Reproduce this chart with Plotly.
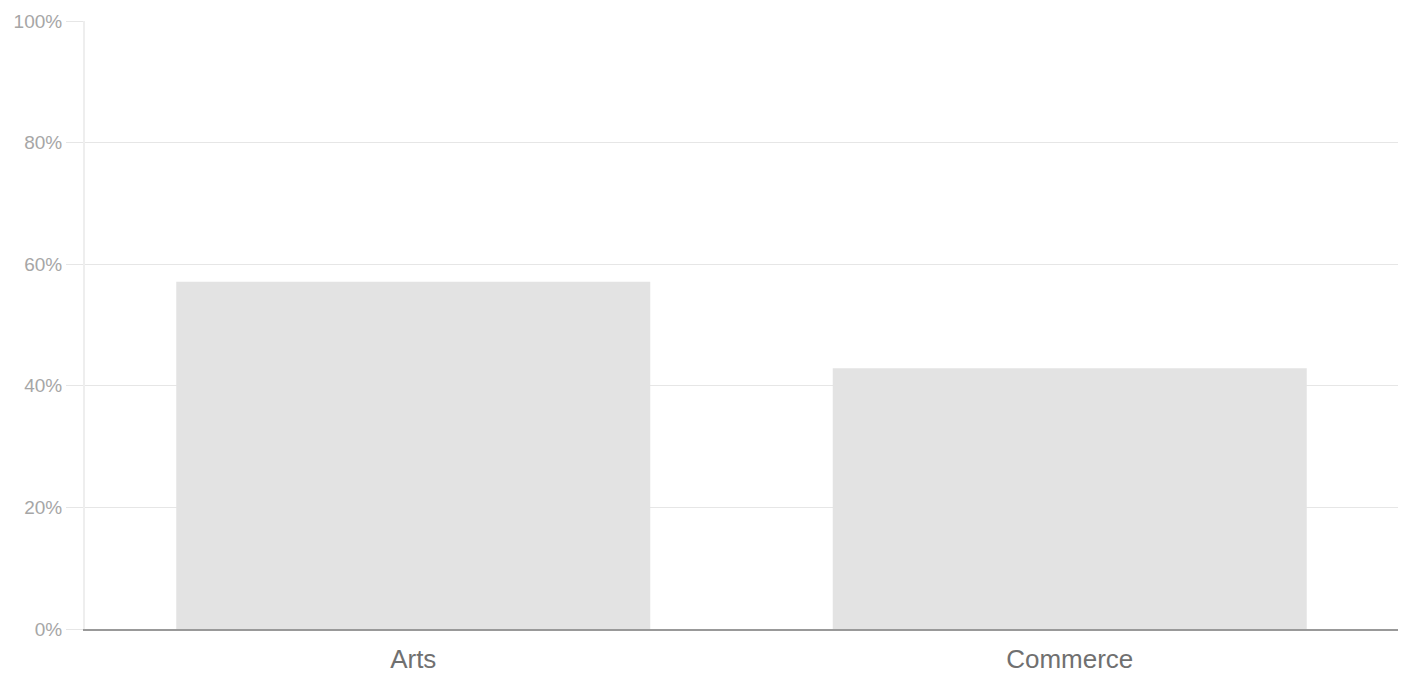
import plotly.graph_objects as go

categories = ['Arts', 'Commerce']
values = [57.1, 42.9]
y_ticks = [0, 20, 40, 60, 80, 100]
y_labels = ['0%', '20%', '40%', '60%', '80%', '100%']

fig = go.Figure()
fig.add_trace(go.Bar(x=categories, y=values, marker=dict(color='#e3e3e3', line=dict(width=0)),
                     hoverinfo='skip'))

# page has an 8px body margin, so margins are shifted to compensate
fig.update_layout(
    width=1408, height=679,
    margin=dict(l=77, r=18, t=13, b=58),
    paper_bgcolor='white', plot_bgcolor='white',
    bargap=0.278, showlegend=False,
    font=dict(family='Liberation Sans, Arial, sans-serif'),
)
fig.update_yaxes(range=[0, 100], tickvals=y_ticks, ticktext=y_labels,
                 showgrid=True, gridcolor='#e6e6e6', gridwidth=1,
                 ticks='outside', ticklen=17, tickcolor='#e6e6e6',
                 showline=True, linecolor='#eeeeee', linewidth=2,
                 zeroline=False, automargin=False,
                 tickfont=dict(size=19, color='#a6a6a6'))
fig.update_xaxes(showgrid=False, showline=True, linecolor='#999999', linewidth=1.5,
                 ticks='outside', ticklen=6, tickcolor='white', automargin=False,
                 tickfont=dict(size=26, color='#707070'))

fig.write_html("out.html")
